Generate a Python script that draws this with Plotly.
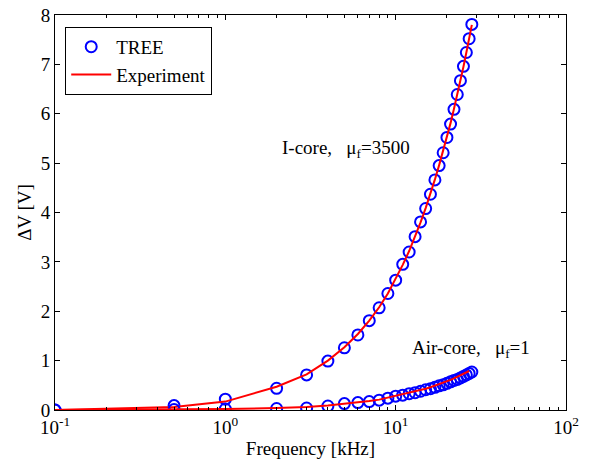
import math
import plotly.graph_objects as go

freq = [0.1, 0.5, 1, 2, 3, 4, 5, 6, 7, 8, 9, 10, 11, 12, 13, 14, 15, 16, 17, 18,
        19, 20, 21, 22, 23, 24, 25, 26, 27, 28]

icore_tree = [0.0, 0.09, 0.22, 0.44, 0.71, 0.99, 1.26, 1.52, 1.81, 2.07, 2.36, 2.63,
              2.95, 3.2, 3.51, 3.81, 4.08, 4.37, 4.66, 4.95, 5.21, 5.52, 5.79, 6.09,
              6.39, 6.67, 6.96, 7.24, 7.52, 7.81]
icore_exp = [0.0, 0.06, 0.17, 0.47, 0.72, 1.0, 1.27, 1.54, 1.81, 2.08, 2.36, 2.65,
             2.94, 3.22, 3.51, 3.8, 4.09, 4.38, 4.67, 4.96, 5.24, 5.53, 5.81, 6.1,
             6.38, 6.67, 6.95, 7.24, 7.52, 7.8]

air_tree = [0.0, 0.01, 0.02, 0.03, 0.04, 0.08, 0.13, 0.15, 0.17, 0.2, 0.24, 0.28,
            0.3, 0.33, 0.35, 0.38, 0.41, 0.43, 0.46, 0.49, 0.51, 0.54, 0.57, 0.6,
            0.62, 0.65, 0.68, 0.71, 0.74, 0.77]
air_exp = [0.0, 0.01, 0.02, 0.04, 0.06, 0.09, 0.12, 0.15, 0.18, 0.21, 0.25, 0.28,
           0.31, 0.34, 0.37, 0.4, 0.43, 0.46, 0.49, 0.52, 0.55, 0.58, 0.61, 0.64,
           0.67, 0.7, 0.73, 0.76, 0.79]
air_exp_freq = freq[:-1]

x_tickvals = [0.1, 1, 10, 100]
x_ticktext = ["10<sup>-1</sup>", "10<sup>0</sup>", "10<sup>1</sup>", "10<sup>2</sup>"]
y_tickvals = [0, 1, 2, 3, 4, 5, 6, 7, 8]

FONT = "Liberation Serif, Times New Roman, serif"
FS = 19
BLUE = "#0000ff"
RED = "#ff0000"

fig = go.Figure()

marker = dict(symbol="circle-open", size=11, color=BLUE, line=dict(width=2, color=BLUE))

fig.add_trace(go.Scatter(x=freq, y=icore_tree, mode="markers", marker=marker,
                         name="TREE", legendgroup="tree", showlegend=True))
fig.add_trace(go.Scatter(x=freq, y=icore_exp, mode="lines", line=dict(color=RED, width=2),
                         name="Experiment", legendgroup="exp", showlegend=True))
fig.add_trace(go.Scatter(x=freq, y=air_tree, mode="markers", marker=marker,
                         name="TREE", legendgroup="tree", showlegend=False))
fig.add_trace(go.Scatter(x=air_exp_freq, y=air_exp, mode="lines", line=dict(color=RED, width=2),
                         name="Experiment", legendgroup="exp", showlegend=False))

# annotation x on a log axis is given in log10 units
fig.add_annotation(x=math.log10(2.1), y=5.28, xref="x", yref="y", xanchor="left", yanchor="middle",
                   text="I-core,&nbsp;&nbsp;&nbsp;μ<sub>f</sub>=3500", showarrow=False,
                   font=dict(family=FONT, size=FS, color="black"))
fig.add_annotation(x=math.log10(12.2), y=1.24, xref="x", yref="y", xanchor="left", yanchor="middle",
                   text="Air-core,&nbsp;&nbsp;&nbsp;μ<sub>f</sub>=1", showarrow=False,
                   font=dict(family=FONT, size=FS, color="black"))

axis_common = dict(showline=True, linecolor="black", linewidth=1, mirror="allticks",
                   ticks="inside", tickcolor="black", ticklen=5, tickwidth=1,
                   showgrid=False, zeroline=False, ticklabeloverflow="allow",
                   automargin=False,
                   tickfont=dict(family=FONT, size=FS, color="black"))

fig.update_xaxes(type="log", range=[-1, 2], tickvals=x_tickvals, ticktext=x_ticktext,
                 title=dict(text="Frequency [kHz]", font=dict(family=FONT, size=FS, color="black"),
                            standoff=4),
                 minor=dict(ticks="inside", ticklen=3, tickcolor="black", tickwidth=1,
                            tickvals=[0.2, 0.3, 0.4, 0.5, 0.6, 0.7, 0.8, 0.9,
                                      2, 3, 4, 5, 6, 7, 8, 9,
                                      20, 30, 40, 50, 60, 70, 80, 90]),
                 **axis_common)
fig.update_yaxes(range=[0, 8], tickvals=y_tickvals,
                 title=dict(text="ΔV [V]", font=dict(family=FONT, size=FS, color="black"),
                            standoff=4),
                 **axis_common)

fig.update_layout(
    width=592, height=471,
    margin=dict(l=47, r=34, t=7, b=69),
    paper_bgcolor="white", plot_bgcolor="white",
    font=dict(family=FONT, size=FS, color="black"),
    legend=dict(x=0.02, y=0.97, xanchor="left", yanchor="top",
                bgcolor="white", bordercolor="black", borderwidth=1,
                font=dict(family=FONT, size=19, color="black"),
                tracegroupgap=0, itemwidth=40, entrywidth=150, entrywidthmode="pixels"),
)

fig.write_html("out.html")
